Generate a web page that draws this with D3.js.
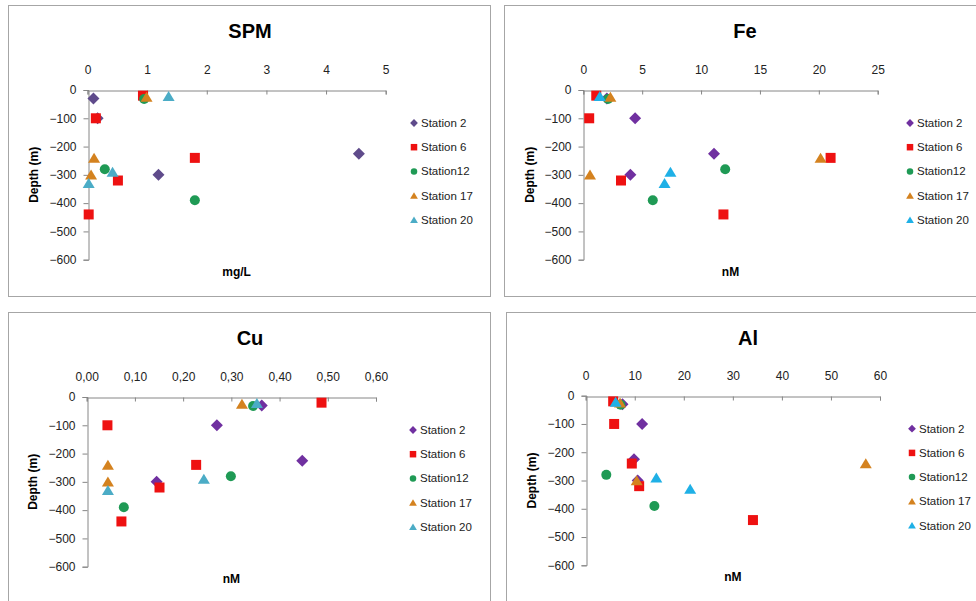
<!DOCTYPE html>
<html>
<head>
<meta charset="utf-8">
<script src="https://cdn.jsdelivr.net/npm/d3@7"></script>
<style>
  body { margin: 0; background: #fff; }
  svg { display: block; font-family: "Liberation Sans", Arial, sans-serif; }
</style>
</head>
<body>
<div id="chart"></div>
<script>
// Stations and sample depths (m), same for all four panels
const stations = ["Station 2", "Station 6", "Station12", "Station 17", "Station 20"];
const depthSt2 = [-30, -100, -225, -300];
const depthSt6 = [-20, -100, -240, -320, -440];
const depthSt12 = [-32, -280, -390];
const depthSt17 = [-25, -240, -300];
const depthSt20 = [-22, -290, -330];

// SPM (mg/L)
const spmSt2 = [0.10, 0.17, 4.55, 1.19];
const spmSt6 = [0.93, 0.14, 1.80, 0.51, 0.02];
const spmSt12 = [0.95, 0.29, 1.80];
const spmSt17 = [0.99, 0.11, 0.06];
const spmSt20 = [1.36, 0.42, 0.02];

// Fe (nM)
const feSt2 = [2.0, 4.4, 11.1, 4.0];
const feSt6 = [1.1, 0.5, 21.0, 3.2, 11.9];
const feSt12 = [2.1, 12.05, 5.9];
const feSt17 = [2.3, 20.15, 0.57];
const feSt20 = [1.4, 7.4, 6.9];

// Cu (nM)
const cuSt2 = [0.363, 0.27, 0.447, 0.145];
const cuSt6 = [0.487, 0.043, 0.227, 0.151, 0.072];
const cuSt12 = [0.345, 0.299, 0.077];
const cuSt17 = [0.322, 0.044, 0.044];
const cuSt20 = [0.353, 0.243, 0.044];

// Al (nM)
const alSt2 = [7.5, 11.5, 9.85, 10.6];
const alSt6 = [5.6, 5.8, 9.4, 10.9, 34.1];
const alSt12 = [7.1, 4.2, 14.0];
const alSt17 = [7.0, 57.1, 10.4];
const alSt20 = [6.1, 14.4, 21.3];

// Axis ticks
const depthTicks = [0, -100, -200, -300, -400, -500, -600];
const spmTicks = [0, 1, 2, 3, 4, 5];
const feTicks = [0, 5, 10, 15, 20, 25];
const cuTicks = [0, 0.1, 0.2, 0.3, 0.4, 0.5, 0.6];
const alTicks = [0, 10, 20, 30, 40, 50, 60];

const depths = [depthSt2, depthSt6, depthSt12, depthSt17, depthSt20];
const shapes = ["diamond", "square", "circle", "triangle", "triangle"];

const width = 976, height = 601;
const svg = d3.select("#chart").append("svg")
    .attr("width", width)
    .attr("height", height);

// panel boxes and inner plot area
const panels = [
    { title: "SPM", unit: "mg/L", values: [spmSt2, spmSt6, spmSt12, spmSt17, spmSt20], ticks: spmTicks, fmt: d3.format("d"),
      box: [8, 5, 482, 291], plot: [87.5, 90, 385.7, 259.7], yTitleX: 34, legendX: 414,
      colors: ["#5f4b8b", "#ee1111", "#1f9a55", "#d4821f", "#4bacc6"] },
    { title: "Fe", unit: "nM", values: [feSt2, feSt6, feSt12, feSt17, feSt20], ticks: feTicks, fmt: d3.format("d"),
      box: [504, 5, 480, 291], plot: [583.3, 90, 877.7, 259.7], yTitleX: 530, legendX: 910,
      colors: ["#7030a0", "#ee1111", "#1f9a55", "#d4821f", "#1fb0e6"] },
    { title: "Cu", unit: "nM", values: [cuSt2, cuSt6, cuSt12, cuSt17, cuSt20], ticks: cuTicks, fmt: d => d3.format(".2f")(d).replace(".", ","),
      box: [8, 312, 482, 295], plot: [86.7, 397, 376, 566.7], yTitleX: 33, legendX: 413,
      colors: ["#7030a0", "#ee1111", "#1f9a55", "#d4821f", "#4bacc6"] },
    { title: "Al", unit: "nM", values: [alSt2, alSt6, alSt12, alSt17, alSt20], ticks: alTicks, fmt: d3.format("d"),
      box: [506, 312, 482, 295], plot: [585.7, 395.7, 880, 565.3], yTitleX: 532, legendX: 912,
      colors: ["#7030a0", "#ee1111", "#1f9a55", "#d4821f", "#1fb0e6"] }
];

function markerPath(shape, s) {
    const h = s / 2;
    if (shape === "diamond") return `M0,${-h * 1.2}L${h * 1.2},0L0,${h * 1.2}L${-h * 1.2},0Z`;
    if (shape === "square") return `M${-h},${-h}H${h}V${h}H${-h}Z`;
    if (shape === "triangle") return `M0,${-h * 1.05}L${h * 1.2},${h * 0.95}L${-h * 1.2},${h * 0.95}Z`;
    return d3.symbol(d3.symbolCircle, Math.PI * h * h)();
}

panels.forEach(p => {
    const [bx, by, bw, bh] = p.box;
    const [x0, y0, x1, y1] = p.plot;

    svg.append("rect")
        .attr("x", bx + 0.5).attr("y", by + 0.5)
        .attr("width", bw).attr("height", bh)
        .attr("fill", "#fff").attr("stroke", "#a6a6a6");

    const x = d3.scaleLinear().domain(d3.extent(p.ticks)).range([x0, x1]);
    const y = d3.scaleLinear().domain([0, -600]).range([y0, y1]);

    const g = svg.append("g");

    // title
    g.append("text")
        .attr("x", bx + bw / 2 + 1).attr("y", by + 33)
        .attr("text-anchor", "middle")
        .attr("font-size", 20).attr("font-weight", "bold")
        .text(p.title);

    // x axis on top (depth 0)
    const xAxis = g.append("g")
        .attr("transform", `translate(0,${Math.round(y0) + 0.5})`)
        .call(d3.axisBottom(x).tickValues(p.ticks).tickFormat(p.fmt).tickSize(4));
    xAxis.selectAll("text").attr("y", -25).attr("dy", "0.71em");

    // y axis
    const yAxis = g.append("g")
        .attr("transform", `translate(${Math.round(x0) + 0.5},0)`)
        .call(d3.axisLeft(y).tickValues(depthTicks).tickSize(5).tickPadding(7));

    [xAxis, yAxis].forEach(a => {
        a.select(".domain").attr("stroke", "#868686");
        a.selectAll(".tick line").attr("stroke", "#868686");
        a.selectAll("text").attr("font-size", 12).attr("fill", "#222")
            .attr("font-family", "'Liberation Sans', Arial, sans-serif");
    });

    // axis titles
    g.append("text")
        .attr("transform", `translate(${p.yTitleX + 4},${(y0 + y1) / 2}) rotate(-90)`)
        .attr("text-anchor", "middle")
        .attr("font-size", 12).attr("font-weight", "bold")
        .text("Depth (m)");

    g.append("text")
        .attr("x", (x0 + x1) / 2).attr("y", y1 + 16)
        .attr("text-anchor", "middle")
        .attr("font-size", 12).attr("font-weight", "bold")
        .text(p.unit);

    // points, series in order so later stations sit on top
    stations.forEach((name, i) => {
        const pts = p.values[i].map((v, j) => ({ v: v, d: depths[i][j] }));
        g.append("g").selectAll("path")
            .data(pts)
            .join("path")
            .attr("transform", d => `translate(${x(d.v)},${y(d.d)})`)
            .attr("d", markerPath(shapes[i], 10))
            .attr("fill", p.colors[i]);
    });

    // legend
    const leg = g.append("g")
        .attr("transform", `translate(${p.legendX},${y0 + 33})`);
    stations.forEach((name, i) => {
        const row = leg.append("g").attr("transform", `translate(0,${i * 24.2})`);
        row.append("path")
            .attr("d", markerPath(shapes[i], 6.5))
            .attr("fill", p.colors[i]);
        row.append("text")
            .attr("x", 7).attr("dy", "0.35em")
            .attr("font-size", 11.5).attr("fill", "#222")
            .text(name);
    });
});
</script>
</body>
</html>
